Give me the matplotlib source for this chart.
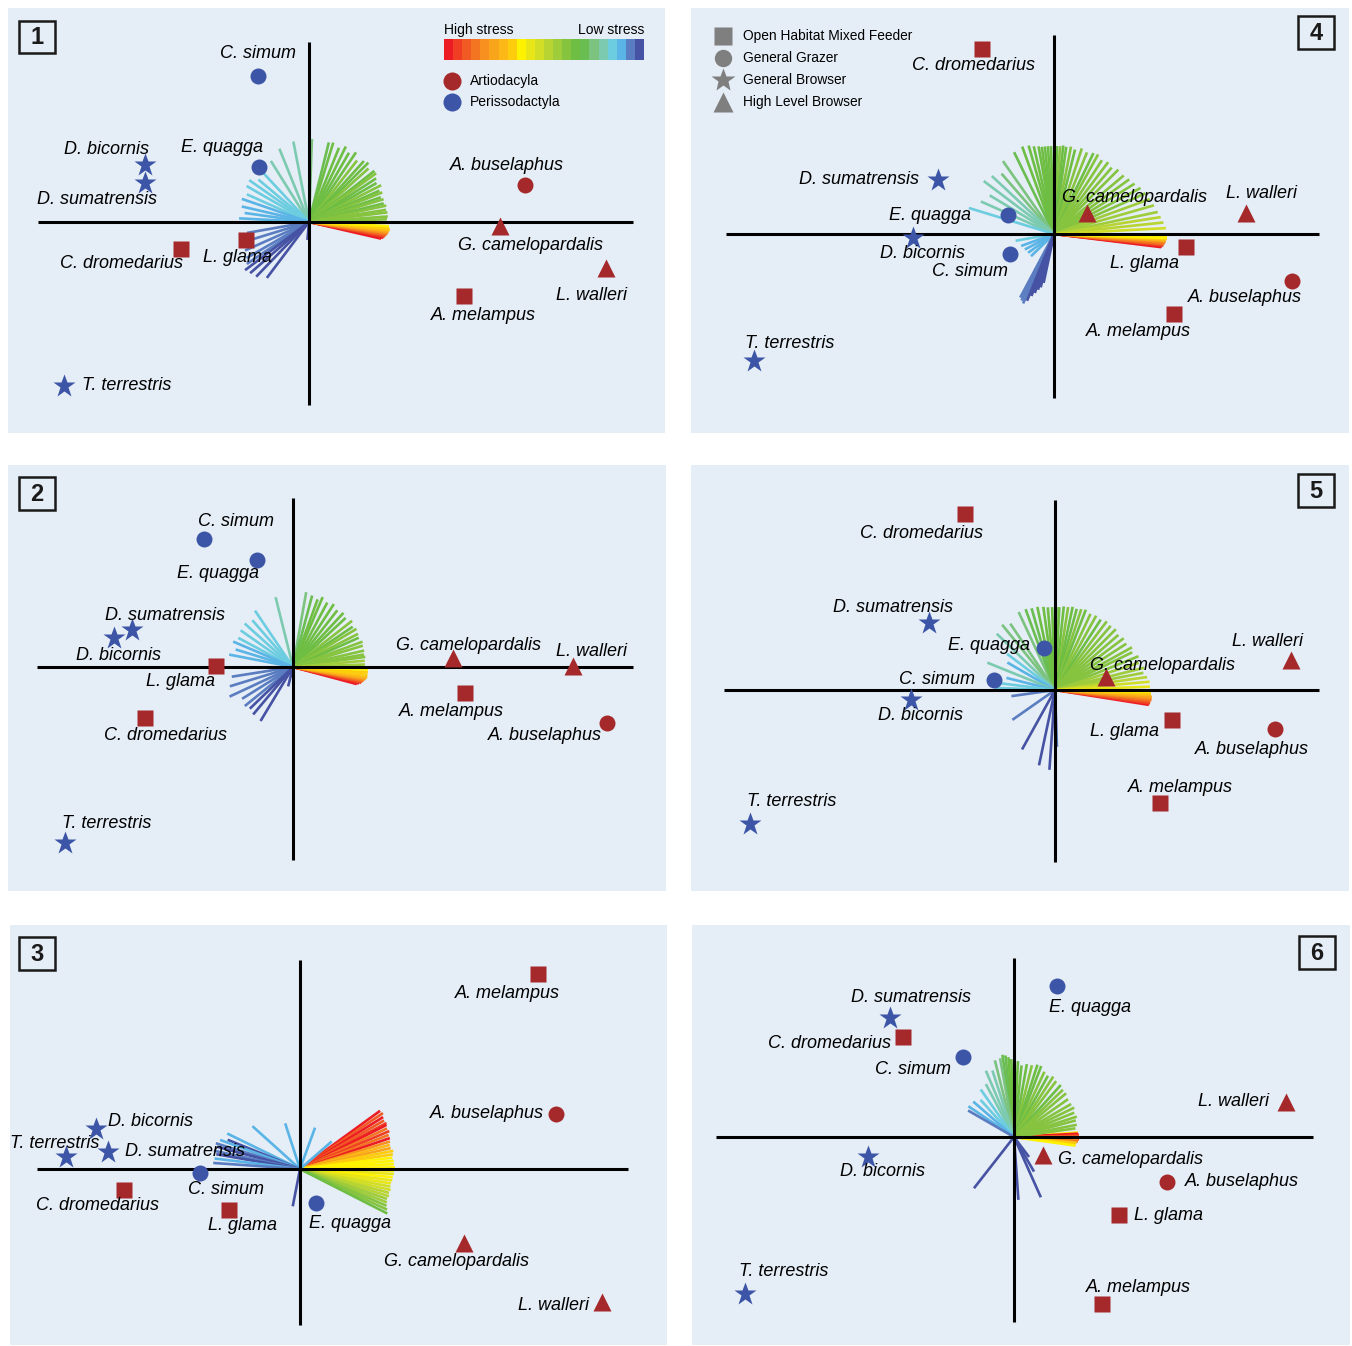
import numpy as np
import matplotlib.pyplot as plt
from matplotlib.colors import ListedColormap
from matplotlib.collections import LineCollection
from matplotlib.patches import Rectangle

plt.rcParams['font.family'] = ['Liberation Sans', 'DejaVu Sans']

W, H = 1352, 1346
BG = '#e5edf6'
RED = '#a5292b'
BLUE = '#3c55a6'
GREY = '#7f7f7f'

SPECIES = ['C. simum', 'E. quagga', 'D. bicornis', 'D. sumatrensis', 'T. terrestris',
           'C. dromedarius', 'L. glama', 'A. buselaphus', 'G. camelopardalis',
           'L. walleri', 'A. melampus']
ORDER = ['Perissodactyla'] * 5 + ['Artiodacyla'] * 6
FEEDING = ['General Grazer', 'General Grazer', 'General Browser', 'General Browser',
           'General Browser', 'Open Habitat Mixed Feeder', 'Open Habitat Mixed Feeder',
           'General Grazer', 'High Level Browser', 'High Level Browser',
           'Open Habitat Mixed Feeder']

# stress scale, high (red) -> low (dark blue)
STRESS_COLORS = ['#ed1c24', '#ef3e23', '#f15a22', '#f47521', '#f7901e', '#f9a51b',
                 '#fbb817', '#fdcc0d', '#fff200', '#e9e618', '#d2de26', '#b8d432',
                 '#9fcc3b', '#86c440', '#6fbe44', '#6abd50', '#7cc37f', '#7ccab0',
                 '#6ccde0', '#5ab4e5', '#5a7dc1', '#4652a3']

# species scores, one pair of arrays per panel
p1_x = [-0.51, -0.50, -1.64, -1.64, -2.45, -1.28, -0.63, 2.16, 1.91, 2.97, 1.55]
p1_y = [1.46, 0.55, 0.57, 0.39, -1.64, -0.27, -0.18, 0.37, -0.04, -0.46, -0.74]
p2_x = [-0.89, -0.36, -1.79, -1.61, -2.28, -1.48, -0.77, 3.14, 1.60, 2.80, 1.72]
p2_y = [1.28, 1.07, 0.29, 0.37, -1.76, -0.51, 0.01, -0.56, 0.09, 0.01, -0.26]
p3_x = [-1.00, 0.16, -2.04, -1.92, -2.34, -1.76, -0.71, 2.56, 1.64, 3.02, 2.38]
p3_y = [-0.04, -0.34, 0.40, 0.17, 0.12, -0.21, -0.41, 0.55, -0.74, -1.33, 1.95]
p4_x = [-0.44, -0.46, -1.41, -1.16, -3.00, -0.72, 1.32, 2.38, 0.33, 1.92, 1.20]
p4_y = [-0.20, 0.19, -0.04, 0.54, -1.27, 1.85, -0.13, -0.47, 0.21, 0.21, -0.80]
p5_x = [-0.61, -0.11, -1.44, -1.26, -3.05, -0.90, 1.17, 2.20, 0.51, 2.36, 1.05]
p5_y = [0.10, 0.42, -0.10, 0.67, -1.34, 1.76, -0.30, -0.39, 0.13, 0.30, -1.13]
p6_x = [-0.51, 0.43, -1.46, -1.24, -2.69, -1.11, 1.05, 1.53, 0.29, 2.72, 0.88]
p6_y = [0.80, 1.51, -0.20, 1.19, -1.57, 1.00, -0.78, -0.45, -0.18, 0.35, -1.67]

# loading vectors: direction (deg), length, stress level (0 = high, 1 = low)
fan1_deg = [-13, -12, -11, -10, -9, -8, -7, -6, -5, -4, -3,
            88, 76, 73, 68, 64, 60, 56, 52, 48, 45, 42, 38, 36, 33, 30, 27, 24, 22, 19, 17,
            14, 12, 9, 7, 4, 2,
            101, 112, 122, 133, 140, 145, 150, 156, 161, 167, 172, 177,
            190, 197, 204, 210, 214, 217, 221, 226, 233, 265]
fan1_len = [0.74, 0.76, 0.77, 0.78, 0.79, 0.80, 0.80, 0.81, 0.81, 0.80, 0.80,
            0.83, 0.82, 0.83, 0.80, 0.84, 0.80, 0.84, 0.78, 0.82, 0.84, 0.80, 0.83, 0.83, 0.80,
            0.78, 0.81, 0.77, 0.79, 0.76, 0.78, 0.77, 0.79, 0.78, 0.79, 0.79, 0.78,
            0.82, 0.79, 0.72, 0.70, 0.66, 0.73, 0.72, 0.68, 0.71, 0.69, 0.65, 0.70,
            0.63, 0.66, 0.70, 0.72, 0.75, 0.80, 0.78, 0.76, 0.70, 0.18]
fan1_stress = [0.00, 0.04, 0.08, 0.12, 0.16, 0.20, 0.24, 0.28, 0.32, 0.36, 0.40,
               0.76, 0.70, 0.68, 0.66, 0.68, 0.64, 0.66, 0.62, 0.65, 0.66, 0.63, 0.65, 0.62,
               0.64, 0.66, 0.63, 0.64, 0.62, 0.65, 0.63, 0.64, 0.62, 0.61, 0.63, 0.62, 0.61,
               0.78, 0.79, 0.80, 0.82, 0.84, 0.85, 0.86, 0.86, 0.87, 0.88, 0.88, 0.89,
               0.91, 0.92, 0.93, 0.94, 0.95, 0.96, 0.97, 0.98, 1.00, 0.97]

fan2_deg = [-15, -14, -13, -12, -11, -10, -9, -8, -6, -4, -2,
            80, 75, 70, 67, 62, 57, 52, 47, 43, 38, 34, 31, 27, 24, 20, 17, 13, 10, 8, 5, 2,
            104, 124, 131, 138, 145, 152, 157, 163, 169,
            189, 197, 205, 212, 219, 224, 230, 239, 256]
fan2_len = [0.66, 0.68, 0.70, 0.71, 0.72, 0.73, 0.74, 0.75, 0.75, 0.75, 0.75,
            0.76, 0.74, 0.72, 0.76, 0.73, 0.75, 0.72, 0.74, 0.72, 0.75, 0.72, 0.74, 0.73, 0.72,
            0.74, 0.73, 0.73, 0.72, 0.73, 0.72, 0.72,
            0.72, 0.68, 0.62, 0.65, 0.64, 0.62, 0.65, 0.60, 0.65,
            0.62, 0.66, 0.70, 0.60, 0.62, 0.60, 0.62, 0.63, 0.20]
fan2_stress = [0.00, 0.04, 0.08, 0.12, 0.16, 0.20, 0.24, 0.28, 0.32, 0.36, 0.40,
               0.74, 0.70, 0.68, 0.66, 0.67, 0.65, 0.66, 0.64, 0.65, 0.63, 0.64, 0.62, 0.63,
               0.64, 0.62, 0.63, 0.62, 0.61, 0.60, 0.58, 0.56,
               0.80, 0.82, 0.83, 0.84, 0.85, 0.86, 0.87, 0.88, 0.89,
               0.91, 0.92, 0.93, 0.94, 0.95, 0.96, 0.97, 0.99, 0.98]

fan3_deg = [36, 34, 32, 30, 28, 27, 25, 23, 21, 19, 17, 15, 13, 11, 9, 7, 5, 3, 1,
            -1, -3, -5, -7, -9, -11, -13, -15, -17, -19, -21, -23, -25, -27,
            108, 138, 154, 158, 160, 163, 165, 168, 170, 173, 176, 70, 41, 259]
fan3_len = [0.99, 1.00, 0.98, 0.97, 0.98, 0.97, 0.96, 0.97, 0.95, 0.95, 0.94, 0.93, 0.93,
            0.95, 0.94, 0.93, 0.94, 0.94, 0.95, 0.94, 0.94, 0.93, 0.93, 0.92, 0.92, 0.93,
            0.92, 0.93, 0.92, 0.93, 0.94, 0.96, 0.98,
            0.48, 0.64, 0.81, 0.78, 0.85, 0.88, 0.86, 0.88, 0.85, 0.86, 0.87, 0.44, 0.42, 0.38]
fan3_stress = [0.04, 0.10, 0.02, 0.12, 0.06, 0.00, 0.14, 0.08, 0.18, 0.02, 0.22, 0.30, 0.26,
               0.34, 0.36, 0.38, 0.40, 0.37, 0.39, 0.40, 0.41, 0.40, 0.42, 0.44, 0.46, 0.48,
               0.50, 0.52, 0.55, 0.58, 0.60, 0.62, 0.64,
               0.88, 0.88, 0.89, 1.00, 0.90, 0.92, 0.96, 0.93, 0.98, 0.90, 0.95, 0.88, 0.87, 0.99]

fan4_deg = [-7, -6.5, -6, -5.5, -5, -4.5, -4, -3.5, -3, -2.5, -2, -1.5,
            116, 110, 106, 103, 100, 98, 96, 94, 92, 90, 88, 86, 84, 82, 79, 76, 72, 68, 64,
            61, 57, 53, 49, 45, 40, 36, 32, 28, 24, 20, 16, 12, 9, 6, 3,
            125, 131, 137, 143, 149, 156, 163,
            190, 200, 208, 216, 224,
            242, 244, 246, 248, 250, 252, 254, 256, 258]
fan4_len = [1.08, 1.09, 1.10, 1.10, 1.11, 1.11, 1.12, 1.12, 1.12, 1.13, 1.12, 1.13,
            0.91, 0.93, 0.92, 0.90, 0.89, 0.88, 0.88, 0.88, 0.88, 0.88, 0.88, 0.88, 0.89, 0.88,
            0.89, 0.87, 0.90, 0.88, 0.90, 0.91, 0.88, 0.90, 0.88, 0.91, 0.91, 0.93, 0.95, 0.98,
            1.00, 1.02, 1.04, 1.06, 1.08, 1.10, 1.12,
            0.89, 0.80, 0.85, 0.88, 0.75, 0.80, 0.89,
            0.39, 0.35, 0.33, 0.32, 0.32,
            0.72, 0.74, 0.76, 0.72, 0.66, 0.62, 0.58, 0.55, 0.50]
fan4_stress = [0.00, 0.03, 0.07, 0.10, 0.14, 0.18, 0.22, 0.26, 0.30, 0.34, 0.37, 0.40,
               0.70, 0.68, 0.67, 0.66, 0.65, 0.66, 0.64, 0.65, 0.66, 0.64, 0.65, 0.63, 0.64,
               0.65, 0.63, 0.64, 0.62, 0.63, 0.64, 0.62, 0.63, 0.61, 0.62, 0.63, 0.61, 0.62,
               0.60, 0.61, 0.60, 0.59, 0.58, 0.56, 0.54, 0.50, 0.46,
               0.76, 0.77, 0.78, 0.79, 0.80, 0.81, 0.82,
               0.86, 0.87, 0.88, 0.89, 0.90,
               0.93, 0.94, 0.95, 0.96, 0.97, 0.98, 0.99, 1.00, 0.96]

fan5_deg = [-9, -8, -7, -6, -5, -4, -3, -2, -1,
            115, 110, 106, 102, 98, 95, 92, 89, 87, 84, 81, 78, 75, 72, 69, 65, 61, 57, 53,
            49, 45, 41, 37, 33, 29, 26, 22, 18, 14, 11, 8, 5, 2,
            124, 129, 136, 143, 150, 158, 166, 173, 178,
            188, 215, 241, 258, 266, 272]
fan5_len = [0.95, 0.96, 0.96, 0.97, 0.97, 0.97, 0.96, 0.96, 0.96,
            0.86, 0.86, 0.85, 0.85, 0.84, 0.83, 0.83, 0.83, 0.83, 0.84, 0.84, 0.85, 0.84, 0.85,
            0.86, 0.84, 0.85, 0.84, 0.86, 0.85, 0.86, 0.84, 0.86, 0.85, 0.88, 0.86, 0.90, 0.88,
            0.92, 0.90, 0.93, 0.95, 0.95,
            0.80, 0.84, 0.81, 0.60, 0.55, 0.73, 0.50, 0.55, 0.60,
            0.44, 0.52, 0.68, 0.77, 0.80, 0.57]
fan5_stress = [0.00, 0.05, 0.10, 0.15, 0.20, 0.25, 0.30, 0.35, 0.40,
               0.74, 0.72, 0.70, 0.68, 0.66, 0.67, 0.65, 0.64, 0.66, 0.65, 0.63, 0.64, 0.65,
               0.63, 0.64, 0.62, 0.63, 0.64, 0.62, 0.63, 0.61, 0.62, 0.63, 0.61, 0.62, 0.60,
               0.61, 0.59, 0.58, 0.56, 0.52, 0.48, 0.45,
               0.76, 0.77, 0.79, 0.86, 0.87, 0.81, 0.88, 0.85, 0.86,
               0.94, 0.95, 0.96, 0.97, 0.99, 0.95]

fan6_deg = [4, 3, 2, 1, 0, -1, -2, -3, -4, -5, -6, -7, -8,
            98, 96, 94, 92, 90, 87, 84, 80, 76, 72, 69, 65, 61, 57, 53, 48, 44, 40, 35, 30,
            26, 22, 18, 15, 11, 8,
            100, 104, 108, 113, 118, 125, 132, 139,
            146, 150, 180, 232, 274, 294, 300, 307]
fan6_len = [0.64, 0.64, 0.65, 0.65, 0.65, 0.65, 0.65, 0.64, 0.64, 0.63, 0.62, 0.62, 0.62,
            0.83, 0.82, 0.80, 0.78, 0.82, 0.76, 0.72, 0.74, 0.74, 0.76, 0.76, 0.72, 0.70, 0.72,
            0.70, 0.70, 0.68, 0.68, 0.66, 0.66, 0.67, 0.65, 0.66, 0.64, 0.64, 0.62,
            0.80, 0.79, 0.70, 0.72, 0.60, 0.58, 0.50, 0.54,
            0.55, 0.53, 0.51, 0.65, 0.63, 0.66, 0.40, 0.25]
fan6_stress = [0.38, 0.00, 0.04, 0.10, 0.02, 0.16, 0.08, 0.22, 0.14, 0.28, 0.32, 0.36, 0.40,
               0.72, 0.70, 0.68, 0.66, 0.65, 0.66, 0.64, 0.65, 0.63, 0.64, 0.65, 0.63, 0.64,
               0.62, 0.63, 0.64, 0.62, 0.63, 0.61, 0.62, 0.63, 0.61, 0.62, 0.60, 0.61, 0.60,
               0.74, 0.76, 0.78, 0.79, 0.80, 0.83, 0.86, 0.88,
               0.90, 0.93, 0.97, 0.98, 0.97, 0.99, 0.96, 0.98]

SHAPES = {'Open Habitat Mixed Feeder': ('s', 11.5),
          'General Grazer': ('o', 11.5),
          'General Browser': ('*', 17),
          'High Level Browser': ('^', 13.5)}
ORDER_COLORS = {'Artiodacyla': RED, 'Perissodactyla': BLUE}

# panel layout in pixels: frame, cross origin, axis-line extents, tag box, label offsets
PANELS = [
    dict(tag='1', frame=(8, 8, 665, 433), origin=(309, 222), hline=(38, 633), vline=(42, 405),
         tagbox=(19, 21, 55, 53), scores=(p1_x, p1_y), fan=(fan1_deg, fan1_len, fan1_stress),
         offs=[(0, 23), (-37, 19), (-38, 16), (-48, -17), (63, 0), (-59, -14), (-8, -18),
               (-18, 19), (30, -19), (-15, -27), (19, -20)]),
    dict(tag='2', frame=(8, 465, 666, 891), origin=(293, 667), hline=(37, 633), vline=(498, 860),
         tagbox=(19, 477, 55, 510), scores=(p2_x, p2_y), fan=(fan2_deg, fan2_len, fan2_stress),
         offs=[(32, 17), (-39, -13), (4, -17), (33, 15), (42, 20), (20, -17), (-36, -16),
               (-62, -12), (16, 13), (18, 14), (-14, -18)]),
    dict(tag='3', frame=(10, 925, 667, 1345), origin=(300, 1169), hline=(37, 628),
         vline=(960, 1325), tagbox=(19, 937, 55, 970), scores=(p3_x, p3_y),
         fan=(fan3_deg, fan3_len, fan3_stress),
         offs=[(26, -16), (34, -21), (55, 7), (77, 0), (-11, 14), (-26, -15), (13, -15),
               (-69, 0), (-8, -19), (-48, -4), (-31, -19)]),
    dict(tag='4', frame=(691, 8, 1349, 433), origin=(1054, 234), hline=(726, 1319),
         vline=(35, 398), tagbox=(1298, 16, 1334, 49), scores=(p4_x, p4_y),
         fan=(fan4_deg, fan4_len, fan4_stress),
         offs=[(-40, -18), (-78, 0), (10, -16), (-79, 0), (36, 18), (-9, -16), (-41, -16),
               (-47, -16), (47, 15), (16, 20), (-36, -17)]),
    dict(tag='5', frame=(691, 465, 1349, 891), origin=(1055, 690), hline=(724, 1319),
         vline=(500, 862), tagbox=(1298, 474, 1334, 507), scores=(p5_x, p5_y),
         fan=(fan5_deg, fan5_len, fan5_stress),
         offs=[(-57, 1), (-55, 2), (9, -16), (-36, 15), (42, 22), (-44, -19), (-48, -12),
               (-23, -20), (56, 12), (-23, 18), (20, 16)]),
    dict(tag='6', frame=(692, 925, 1350, 1345), origin=(1014, 1137), hline=(716, 1313),
         vline=(958, 1322), tagbox=(1299, 936, 1335, 969), scores=(p6_x, p6_y),
         fan=(fan6_deg, fan6_len, fan6_stress),
         offs=[(-50, -12), (33, -21), (14, -15), (21, 21), (39, 23), (-73, -7), (50, 0),
               (75, 0), (87, -5), (-52, 0), (36, 17)]),
]

PX = 100.0  # pixels per score unit
cmap = ListedColormap(STRESS_COLORS)

fig = plt.figure(figsize=(W / 100, H / 100), dpi=100)
fig.patch.set_facecolor('white')


def draw_panel(p):
    x0, y0, x1, y1 = p['frame']
    ox, oy = p['origin']
    ax = fig.add_axes([x0 / W, 1 - y1 / H, (x1 - x0) / W, (y1 - y0) / H])
    ax.set_facecolor(BG)
    ax.set_xlim((x0 - ox) / PX, (x1 - ox) / PX)
    ax.set_ylim((oy - y1) / PX, (oy - y0) / PX)
    ax.set_xticks([])
    ax.set_yticks([])
    for s in ax.spines.values():
        s.set_visible(False)

    deg, length, stress = p['fan']
    a = np.radians(deg)
    ends = np.column_stack([np.cos(a) * length, np.sin(a) * length])
    segs = [[(0, 0), tuple(e)] for e in ends]
    lc = LineCollection(segs, colors=cmap(np.asarray(stress)), linewidths=1.9,
                        capstyle='butt', zorder=2)
    ax.add_collection(lc)

    hx0, hx1 = p['hline']
    vy0, vy1 = p['vline']
    ax.plot([(hx0 - ox) / PX, (hx1 - ox) / PX], [0, 0], color='black', lw=2.2, zorder=3,
            solid_capstyle='butt')
    ax.plot([0, 0], [(oy - vy1) / PX, (oy - vy0) / PX], color='black', lw=2.2, zorder=3,
            solid_capstyle='butt')

    xs, ys = p['scores']
    for i, name in enumerate(SPECIES):
        marker, ms = SHAPES[FEEDING[i]]
        ax.plot(xs[i], ys[i], marker=marker, ms=ms, color=ORDER_COLORS[ORDER[i]],
                mec='none', zorder=4)
        dx, dy = p['offs'][i]
        ax.annotate(name, (xs[i], ys[i]), xytext=(dx, dy), textcoords='offset pixels',
                    ha='center', va='center', fontsize=13, style='italic', zorder=5)
    return ax


for p in PANELS:
    draw_panel(p)

# overlay in pixel coordinates for tags and legends
ov = fig.add_axes([0, 0, 1, 1])
ov.set_xlim(0, W)
ov.set_ylim(H, 0)
ov.set_axis_off()

for p in PANELS:
    bx0, by0, bx1, by1 = p['tagbox']
    ov.add_patch(Rectangle((bx0, by0), bx1 - bx0, by1 - by0, fill=False, lw=1.8,
                           ec='#1a1a1a'))
    ov.text((bx0 + bx1) / 2, (by0 + by1) / 2 + 1, p['tag'], ha='center', va='center',
            fontsize=17, fontweight='bold', color='#1a1a1a')

# stress colour bar
cb = fig.add_axes([444 / W, 1 - 60 / H, 200 / W, 21 / H])
cb.imshow(np.arange(len(STRESS_COLORS))[None, :], cmap=cmap, aspect='auto',
          interpolation='nearest')
cb.set_axis_off()
ov.text(444, 30, 'High stress', ha='left', va='center', fontsize=10)
ov.text(644, 30, 'Low stress', ha='right', va='center', fontsize=10)

# order legend
for yy, (lab, col) in zip([81, 102], [('Artiodacyla', RED), ('Perissodactyla', BLUE)]):
    ov.plot(452, yy, 'o', ms=13, color=col, mec='none')
    ov.text(470, yy, lab, ha='left', va='center', fontsize=10)

# feeding type legend
for yy, lab in zip([36, 58, 80, 102], ['Open Habitat Mixed Feeder', 'General Grazer',
                                         'General Browser', 'High Level Browser']):
    marker, ms = SHAPES[lab]
    ov.plot(723, yy, marker=marker, ms=ms + 1, color=GREY, mec='none')
    ov.text(743, yy, lab, ha='left', va='center', fontsize=9.9)

fig.savefig('out.png', dpi=100, facecolor='white')
